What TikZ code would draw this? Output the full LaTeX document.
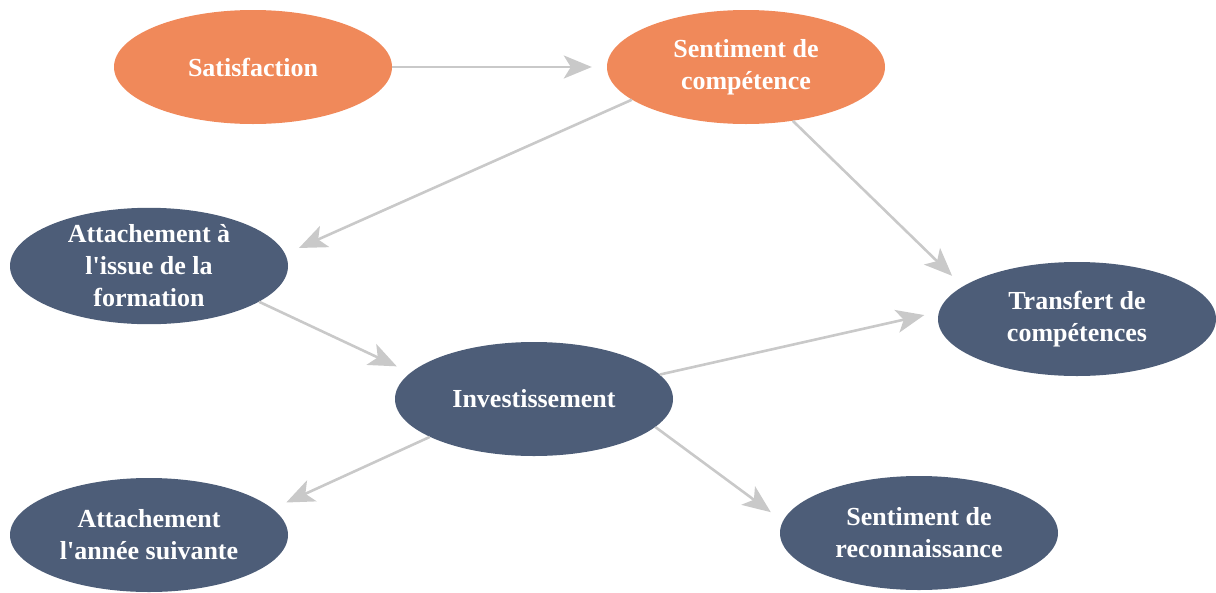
\documentclass[tikz,border=0pt]{standalone}
\usepackage{fontspec}
\setmainfont{Liberation Serif}
\usetikzlibrary{arrows.meta,shapes.geometric}

\definecolor{orangefill}{HTML}{F0895A}
\definecolor{bluefill}{HTML}{4D5D78}
\definecolor{linkgray}{HTML}{C9C9C9}

\begin{document}
\begin{tikzpicture}[
    x=1pt, y=-1pt,
    state/.style={ellipse, minimum width=278pt, minimum height=114pt, inner sep=0pt,
        align=center, text=white, font=\fontsize{26}{32}\selectfont\bfseries},
    orangenode/.style={state, fill=orangefill},
    bluenode/.style={state, fill=bluefill},
    link/.style={draw=linkgray, line width=2.6pt, shorten >=15pt,
        -{Stealth[length=28pt, width=23pt, inset=7pt]}}
]
\useasboundingbox (0,0) rectangle (1216,592);

\node[orangenode] (satis) at (253,67) {Satisfaction};
\node[orangenode] (compet) at (746,67) {Sentiment de\\compétence};

\node[bluenode] (attach) at (149,266) {Attachement à\\l\textquotesingle issue de la\\formation};
\node[bluenode] (transf) at (1077,319) {Transfert de\\compétences};
\node[bluenode] (invest) at (534,399) {Investissement};
\node[bluenode] (suiv) at (149,535) {Attachement\\l\textquotesingle année suivante};
\node[bluenode] (recon) at (919,533) {Sentiment de\\reconnaissance};

\draw[link] (satis.0) -- (compet.180);
\draw[link] (compet.196) -- (attach.5);
\draw[link] (compet.311) -- (transf.164);
\draw[link] (attach.342) -- (invest.168);
\draw[link] (invest.11) -- (transf.177);
\draw[link] (invest.200) -- (suiv.12);
\draw[link] (invest.347) -- (recon.175);

\end{tikzpicture}
\end{document}
